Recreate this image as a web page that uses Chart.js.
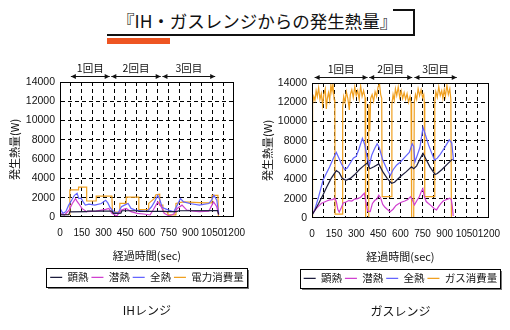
<!DOCTYPE html>
<html lang="ja">
<head>
<meta charset="utf-8">
<script src="https://cdn.jsdelivr.net/npm/chart.js@4.4.0/dist/chart.umd.min.js"></script>
<style>
    html, body { margin: 0; padding: 0; background: #fff; }
    body { width: 510px; height: 330px; position: relative; overflow: hidden; font-family: "Noto Sans CJK JP", sans-serif; }
    #title { position: absolute; left: 117px; top: 8px; font-size: 17.5px; line-height: 26px; color: #111; white-space: nowrap; }
    .line { position: absolute; background: #111; }
    #accent { position: absolute; left: 107px; top: 38px; width: 63px; height: 6px; background: #ee5522; }
    canvas { position: absolute; top: 45px; }
    #ih { left: 0; }
    #gas { left: 255px; }
</style>
</head>
<body>
<div id="title">『IH・ガスレンジからの発生熱量』</div>
<div class="line" style="left:393px;top:9px;width:22px;height:2px"></div>
<div class="line" style="left:413px;top:9px;width:2px;height:27px"></div>
<div class="line" style="left:107px;top:34px;width:308px;height:2px"></div>
<div id="accent"></div>
<canvas id="ih" width="255" height="285"></canvas>
<canvas id="gas" width="255" height="285"></canvas>
<script>
// axes
const xTickLabels = [0, 150, 300, 450, 600, 750, 900, 1050, 1200];
const yTickLabels = [0, 2000, 4000, 6000, 8000, 10000, 12000, 14000];
const runLabels = ["1回目", "2回目", "3回目"];
const ihRuns = [[75, 343], [354, 695], [707, 1071]];
const gasRuns = [[18, 377], [388, 680], [695, 982]];
const seriesNames = ["顕熱", "潜熱", "全熱"];

// IHレンジ (sec / W)
const ihSensibleT = [0, 60, 68, 184, 190, 358, 368, 420, 428, 533, 545, 730, 740, 805, 820, 1088, 1095];
const ihSensible = [200, 220, 520, 540, 600, 600, 370, 380, 640, 640, 580, 580, 540, 550, 640, 650, 250];

const ihLatentT = [0, 31, 63, 85, 107, 118, 129, 151, 184, 249, 315, 337, 358, 391, 424, 457, 490, 533, 577, 621,
    643, 675, 699, 719, 752, 785, 809, 842, 875, 920, 962, 1027, 1060, 1082, 1095];
const ihLatent = [370, 200, 710, 1390, 1900, 1600, 1390, 880, 540, 600, 780, 880, 370, 100, 710, 880, 540, 370, 300, 200,
    710, 1560, 1050, 370, 100, 300, 880, 1220, 710, 600, 540, 600, 1560, 1050, 200];

const ihTotalT = [0, 20, 40, 60, 80, 100, 118, 130, 145, 160, 175, 200, 240, 285, 315, 330, 345, 370, 400, 424,
    445, 470, 490, 520, 560, 600, 632, 652, 675, 690, 705, 720, 750, 785, 809, 831, 853, 896, 962, 1027,
    1049, 1062, 1082, 1095];
const ihTotal = [900, 370, 540, 1220, 1730, 2240, 2450, 1900, 1950, 1560, 1220, 1320, 1220, 1390, 1730, 1450, 980, 540, 370, 1050,
    1220, 1390, 880, 710, 640, 540, 1050, 1560, 2240, 1730, 1000, 880, 710, 540, 1220, 1900, 1560, 1390, 1220, 1390,
    1800, 2240, 1730, 370];

const ihPowerT = [0, 68, 68, 128, 128, 184, 184, 250, 250, 358, 362, 413, 413, 457, 457, 544, 544, 610, 612, 650,
    662, 688, 688, 710, 712, 743, 745, 798, 800, 850, 1000, 1049, 1049, 1090, 1093];
const ihPower = [250, 250, 2800, 2800, 3100, 3100, 1650, 1650, 2150, 2150, 500, 500, 1400, 1400, 2050, 2050, 750, 750, 1400, 1900,
    2300, 2350, 1220, 1220, 540, 540, 200, 200, 1400, 1550, 1450, 1450, 2240, 2240, 100];

// ガスレンジ (sec / W)
const gasSensibleT = [0, 20, 45, 75, 100, 130, 165, 185, 205, 230, 260, 290, 320, 350, 375, 392, 420, 453, 480, 510,
    540, 560, 600, 640, 675, 690, 710, 735, 753, 770, 800, 835, 850, 880, 920, 953];
const gasSensible = [300, 800, 1500, 2400, 3200, 4100, 4900, 4700, 4100, 3900, 4100, 4500, 5000, 5400, 5700, 5100, 5300, 5600, 4800, 4100,
    3600, 3700, 4300, 4800, 5300, 5100, 5400, 6200, 6700, 6200, 5300, 4500, 4600, 5000, 5600, 6100];

const gasLatentT = [0, 15, 30, 50, 65, 85, 100, 120, 140, 155, 165, 175, 185, 200, 212, 230, 250, 270, 290, 310,
    330, 345, 355, 365, 378, 395, 410, 425, 440, 453, 465, 480, 495, 510, 530, 550, 570, 590, 610, 630,
    650, 668, 680, 695, 712, 728, 742, 752, 762, 775, 790, 810, 830, 845, 860, 875, 890, 905, 920, 935,
    945, 952, 958];
const gasLatent = [300, 700, 1000, 1300, 1520, 1650, 1750, 1870, 1900, 2050, 1700, 900, 600, 1100, 1550, 1650, 1800, 1750, 1950, 2000,
    2150, 2400, 2550, 1700, 700, 650, 1500, 1800, 1950, 2350, 2100, 1400, 1100, 900, 650, 900, 1300, 1500, 1650, 1750,
    1900, 2200, 1900, 1350, 1800, 2200, 2750, 3050, 2200, 1700, 1500, 1250, 950, 830, 1200, 1500, 1750, 1850, 1950, 2050,
    1900, 1200, 200];

const gasTotalT = [0, 20, 45, 75, 100, 120, 145, 165, 180, 200, 222, 240, 260, 280, 300, 320, 342, 358, 375, 390,
    405, 425, 442, 456, 480, 510, 531, 550, 575, 600, 630, 660, 680, 690, 698, 712, 732, 753, 770, 790,
    810, 831, 850, 870, 900, 931, 948, 960];
const gasTotal = [300, 900, 2200, 3900, 4700, 5300, 6200, 6800, 6300, 5600, 5000, 5200, 5700, 6200, 6400, 7200, 8250, 7600, 6200, 5500,
    6500, 7200, 7700, 7300, 6000, 5000, 4400, 5000, 5500, 5800, 6300, 6800, 7700, 7400, 5800, 6400, 7300, 9400, 8600, 7600,
    6800, 6000, 6200, 6600, 7300, 8100, 7800, 6000];

const gasFuelT = [0, 4, 12, 20, 28, 36, 45, 54, 63, 72,
    80, 90, 97, 104, 112, 120, 128, 135, 142, 150,
    155, 157, 205, 208, 215, 224, 233, 243, 253, 260,
    270, 280, 290, 300, 310, 320, 330, 340, 350, 360,
    364, 382, 385, 392, 398, 408, 418, 428, 438, 448,
    458, 466, 473, 476, 540, 542, 550, 558, 566, 575,
    585, 595, 605, 615, 625, 635, 645, 655, 665, 672,
    676, 690, 694, 702, 710, 720, 730, 740, 750, 758,
    762, 765, 830, 833, 840, 850, 860, 870, 880, 888,
    897, 905, 915, 925, 935, 942, 946];
const gasFuel = [0, 11800, 12600, 12200, 13200, 12600, 13500, 12300, 12900, 11700,
    12800, 13400, 11300, 12400, 13000, 12200, 13800, 13100, 13900, 12300,
    12000, 400, 400, 11500, 12600, 12000, 13100, 12400, 11200, 12800,
    13300, 12500, 13600, 12700, 13200, 12300, 13700, 12600, 13200, 12500,
    0, 0, 11800, 9000, 12400, 12800, 12100, 13100, 12600, 13600,
    13900, 12800, 12400, 2200, 2200, 11800, 12800, 12200, 13400, 12700,
    13600, 12500, 13200, 12400, 13000, 12300, 12900, 12000, 12600, 11900,
    0, 0, 12000, 12800, 12300, 13400, 12700, 13300, 12500, 12800,
    12000, 2200, 2200, 12000, 13100, 12500, 13600, 12700, 13200, 12400,
    13300, 12600, 13800, 12800, 13400, 12300, 0];

const colors = ["#1c1c3c", "#d040d0", "#6464ff", "#f0a020"];

function points(t, v) {
    return t.map((x, i) => ({ x: x, y: v[i] }));
}

// plot frame
const framePlugin = {
    id: "frame",
    afterDatasetsDraw(chart) {
        const { ctx, chartArea: a } = chart;
        ctx.save();
        ctx.strokeStyle = "#000";
        ctx.lineWidth = 1;
        ctx.strokeRect(Math.round(a.left) + 0.5, Math.round(a.top) + 0.5, Math.round(a.width) - 1, Math.round(a.height) - 1);
        ctx.restore();
    },
};

// keep legend and caption centred under the plot
const centerPlugin = {
    id: "centerBoxes",
    afterLayout(chart) {
        const a = chart.chartArea;
        [chart.legend, chart.titleBlock].forEach((box) => {
            if (!box) return;
            const d = (a.left + a.right) / 2 - (box.left + box.right) / 2;
            box.left += d;
            box.right += d;
        });
    },
};

// border round the legend
const legendBoxPlugin = {
    id: "legendBox",
    afterDraw(chart) {
        const hb = chart.legend.legendHitBoxes;
        if (!hb || !hb.length) return;
        const ctx = chart.ctx;
        const l = Math.round(Math.min(...hb.map((b) => b.left))) - 4;
        const r = Math.round(Math.max(...hb.map((b) => b.left + b.width))) + 3;
        const t = Math.round(Math.min(...hb.map((b) => b.top))) - 4;
        const b = Math.round(Math.max(...hb.map((b) => b.top + b.height))) + 4;
        ctx.save();
        ctx.strokeStyle = "#000";
        ctx.lineWidth = 1;
        ctx.strokeRect(l + 0.5, t + 0.5, r - l, b - t);
        ctx.fillStyle = "#777";
        ctx.fillRect(l + 2, b + 1, r - l, 1);
        ctx.fillRect(r + 1, t + 2, 1, b - t);
        ctx.restore();
    },
};

// 1回目 / 2回目 / 3回目 arrows above the plot
const runsPlugin = {
    id: "runs",
    afterDraw(chart, args, opts) {
        const { ctx, chartArea, scales } = chart;
        const y = Math.round(chartArea.top) - 5.5;
        ctx.save();
        ctx.strokeStyle = "#111";
        ctx.fillStyle = "#111";
        ctx.lineWidth = 1;
        ctx.font = '10.5px "Noto Sans CJK JP"';
        ctx.textAlign = "center";
        ctx.textBaseline = "middle";
        opts.ranges.forEach((r, i) => {
            const x1 = scales.x.getPixelForValue(r[0]);
            const x2 = scales.x.getPixelForValue(r[1]);
            ctx.beginPath();
            ctx.moveTo(x1, y);
            ctx.lineTo(x2, y);
            ctx.stroke();
            [[x1, 1], [x2, -1]].forEach(([x, dir]) => {
                ctx.beginPath();
                ctx.moveTo(x, y);
                ctx.lineTo(x + dir * 5, y - 2.5);
                ctx.lineTo(x + dir * 5, y + 2.5);
                ctx.closePath();
                ctx.fill();
            });
            ctx.fillText(runLabels[i], (x1 + x2) / 2, y - 8);
        });
        ctx.restore();
    },
};

function buildChart(id, series, lastLabel, caption, runs, pad, axisWidth) {
    const datasets = series.map((s, i) => ({
        label: i < 3 ? seriesNames[i] : lastLabel,
        data: points(s[0], s[1]),
        borderColor: colors[i],
        backgroundColor: colors[i],
        borderWidth: 1.2,
        pointRadius: 0,
        tension: 0,
        fill: false,
        order: i === 3 ? 4 : i,
    }));
    return new Chart(document.getElementById(id), {
        type: "line",
        data: { datasets: datasets },
        options: {
            responsive: false,
            animation: false,
            events: [],
            layout: { padding: pad },
            plugins: {
                legend: {
                    position: "bottom",
                    labels: {
                        usePointStyle: true,
                        pointStyle: "line",
                        pointStyleWidth: 12,
                        padding: 3,
                        color: "#111",
                        font: { family: "Noto Sans CJK JP", size: 10.5 },
                    },
                },
                title: {
                    display: true,
                    position: "bottom",
                    text: caption,
                    color: "#111",
                    font: { family: "Noto Sans CJK JP", size: 12, weight: "normal" },
                    padding: { top: 11, bottom: 4 },
                },
                tooltip: { enabled: false },
                runs: { ranges: runs },
            },
            scales: {
                x: {
                    type: "linear",
                    min: 0,
                    max: 1200,
                    ticks: {
                        stepSize: 75,
                        autoSkip: false,
                        maxRotation: 0,
                        padding: 10,
                        color: "#111",
                        font: { family: "Liberation Sans", size: 10 },
                        callback: (v) => (xTickLabels.includes(v) ? String(v) : ""),
                    },
                    grid: { color: "#000", drawTicks: false },
                    border: { color: "#000", dash: [4, 3] },
                    title: {
                        display: true,
                        text: "経過時間(sec)",
                        color: "#111",
                        font: { family: "Noto Sans CJK JP", size: 11 },
                        padding: { top: 0, bottom: 7 },
                    },
                },
                y: {
                    min: 0,
                    max: 14000,
                    afterFit: (scale) => { scale.width = axisWidth; },
                    ticks: {
                        stepSize: 2000,
                        padding: 5,
                        color: "#111",
                        font: { family: "Liberation Sans", size: 10.5 },
                        callback: (v) => (yTickLabels.includes(v) ? String(v) : ""),
                    },
                    grid: { color: "#000", drawTicks: false },
                    border: { color: "#000", dash: [4, 3] },
                    title: {
                        display: true,
                        text: "発生熱量(W)",
                        color: "#111",
                        font: { family: "Noto Sans CJK JP", size: 11 },
                        padding: { top: 4, bottom: 4 },
                    },
                },
            },
        },
        plugins: [centerPlugin, framePlugin, legendBoxPlugin, runsPlugin],
    });
}

buildChart("ih",
    [[ihSensibleT, ihSensible], [ihLatentT, ihLatent], [ihTotalT, ihTotal], [ihPowerT, ihPower]],
    "電力消費量", "IHレンジ", ihRuns,
    { top: 37, left: 4, right: 12, bottom: 8 }, 56);

buildChart("gas",
    [[gasSensibleT, gasSensible], [gasLatentT, gasLatent], [gasTotalT, gasTotal], [gasFuelT, gasFuel]],
    "ガス消費量", "ガスレンジ", gasRuns,
    { top: 38, left: 2, right: 18, bottom: 7 }, 55);
</script>
</body>
</html>
